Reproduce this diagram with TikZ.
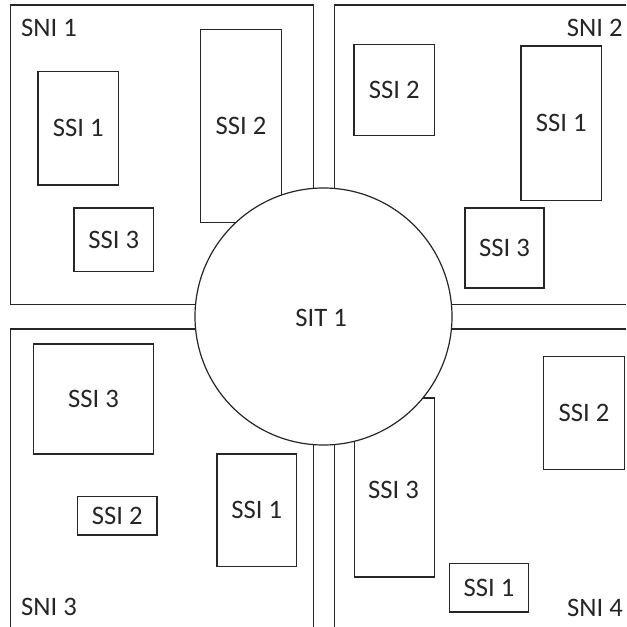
\documentclass[tikz,border=0pt]{standalone}
\usepackage{fontspec}
\setmainfont{Carlito}
\begin{document}
\begin{tikzpicture}[x=0.75pt,y=-0.75pt,
  ln/.style={draw=black!85,line width=0.9pt},
  ssi/.style={ln,rectangle,inner sep=0pt,fill=white,text=black!85,font=\fontsize{20}{24}\selectfont},
  lab/.style={inner sep=0pt,anchor=base,text=black!85,font=\fontsize{20}{24}\selectfont},
  sitc/.style={ln,circle,inner sep=0pt,fill=white,minimum size=192.75pt,text=black!85,font=\fontsize{20}{24}\selectfont}]
\useasboundingbox[fill=white] (0,0) rectangle (626,627);
% SNI regions
\draw[ln] (10.7,5) rectangle (313.3,304.3);
\draw[ln] (626,5) -- (334.3,5) -- (334.3,304.3) -- (626,304.3);
\draw[ln] (10.7,627) -- (10.7,329) -- (313.3,329) -- (313.3,627);
\draw[ln] (334.3,627) -- (334.3,329) -- (626,329);
\node[lab] (sni1) at (49,36.7) {SNI 1};
\node[lab] (sni2) at (594.7,36.7) {SNI 2};
\node[lab] (sni3) at (49,615.3) {SNI 3};
\node[lab] (sni4) at (595,616) {SNI 4};
% SNI 1
\node[ssi,minimum width=60.5pt,minimum height=85.3pt] (a1) at (78.3,128.2) {SSI 1};
\node[ssi,minimum width=61pt,minimum height=145pt] (a2) at (241,126) {SSI 2};
\node[ssi,minimum width=59.8pt,minimum height=47.5pt] (a3) at (113.8,239.7) {SSI 3};
% SNI 2
\node[ssi,minimum width=60.5pt,minimum height=68.3pt] (b2) at (394.3,89.8) {SSI 2};
\node[ssi,minimum width=60.5pt,minimum height=115.7pt] (b1) at (561.3,123.2) {SSI 1};
\node[ssi,minimum width=59.3pt,minimum height=60pt] (b3) at (504.5,248) {SSI 3};
% SNI 3
\node[ssi,minimum width=90.3pt,minimum height=82.5pt] (c3) at (93.5,399) {SSI 3};
\node[ssi,minimum width=59.8pt,minimum height=28.7pt] (c2) at (117.2,515.8) {SSI 2};
\node[ssi,minimum width=59.8pt,minimum height=84.2pt] (c1) at (256.8,510.2) {SSI 1};
% SNI 4
\node[ssi,minimum width=60.5pt,minimum height=85pt] (d2) at (584,413) {SSI 2};
\node[ssi,minimum width=60.3pt,minimum height=134.3pt,text depth=0pt] (d3) at (394.5,487.5) {};
\node[lab] (d3t) at (393.5,498.7) {SSI 3};
\node[ssi,minimum width=59.5pt,minimum height=36.5pt] (d1) at (489,587.7) {SSI 1};
% SIT
\node[sitc] (sit) at (323.5,316.5) {};
\node[lab] (sitt) at (321.2,326.7) {SIT 1};
\end{tikzpicture}
\end{document}
